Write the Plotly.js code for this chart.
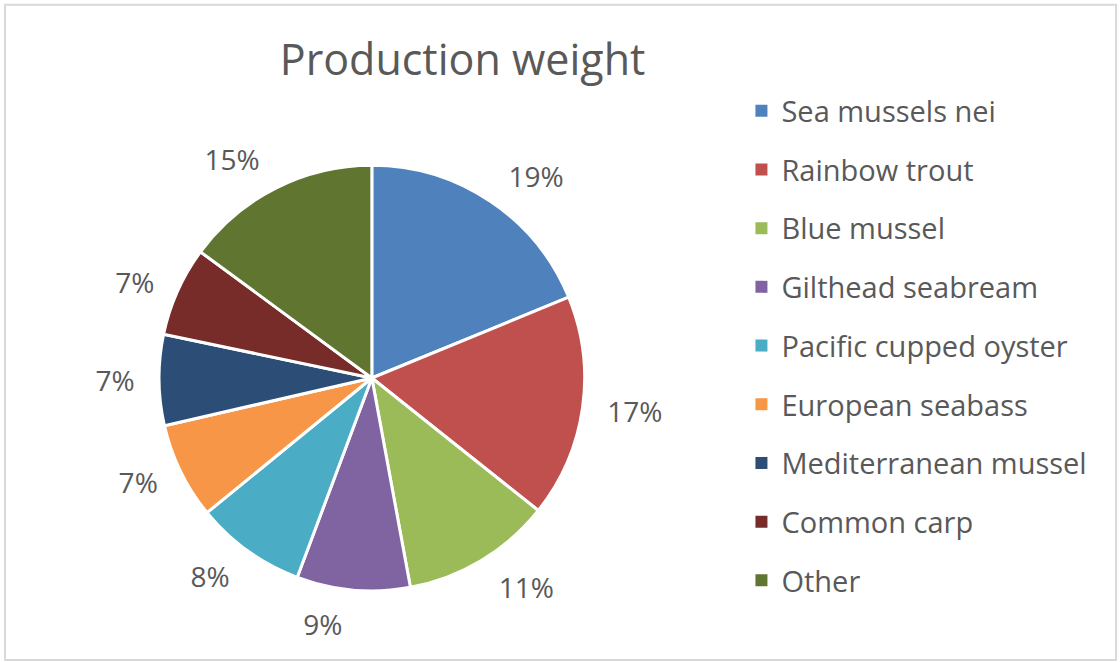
<!DOCTYPE html>
<html>
<head>
<meta charset="utf-8">
<script src="https://cdn.plot.ly/plotly-3.0.1.min.js"></script>
<style>
  html, body { margin: 0; padding: 0; background: #ffffff; }
  #chart { width: 1120px; height: 662px; }
</style>
</head>
<body>
<div id="chart"></div>
<script>
const categories = [
  "Sea mussels nei",
  "Rainbow trout",
  "Blue mussel",
  "Gilthead seabream",
  "Pacific cupped oyster",
  "European seabass",
  "Mediterranean mussel",
  "Common carp",
  "Other"
];
const shares = [18.8, 16.9, 11.4, 8.6, 8.4, 7.3, 6.9, 6.8, 14.9];
const colors = ["#4F81BD", "#C0504D", "#9BBB59", "#8064A2", "#4BACC6", "#F79646", "#2C4D75", "#772C2A", "#5F7530"];

const FONT = "Open Sans, Noto Sans, sans-serif";
const GREY = "#595959";

// visible pie (no text)
const pieTrace = {
  type: "pie",
  labels: categories,
  values: shares,
  sort: false,
  direction: "clockwise",
  rotation: 0,
  marker: { colors: colors, line: { color: "#ffffff", width: 3 } },
  textinfo: "none",
  automargin: false,
  showlegend: false,
  hoverinfo: "label+percent",
  domain: { x: [0.142, 0.522], y: [0.107, 0.751] }
};

// same data, transparent, slightly larger: carries the percentage labels
const labelTrace = {
  type: "pie",
  labels: categories,
  values: shares,
  sort: false,
  direction: "clockwise",
  rotation: 0,
  marker: { colors: categories.map(() => "rgba(0,0,0,0)"), line: { width: 0 } },
  texttemplate: "%{percent:.0%}",
  textposition: "outside",
  outsidetextfont: { family: FONT, size: 28, color: GREY },
  automargin: false,
  showlegend: false,
  hoverinfo: "skip",
  domain: { x: [0.1286, 0.5357], y: [0.0846, 0.7734] }
};

// Legend entries: one per category, spaced like the original
const legendTraces = categories.map((name, i) => ({
  type: "scatter",
  x: [null],
  y: [null],
  mode: "markers",
  name: name,
  legendgroup: "g" + i,
  marker: { symbol: "square", size: 12, color: colors[i] },
  hoverinfo: "skip",
  xaxis: "x",
  yaxis: "y"
}));

const layout = {
  width: 1120,
  height: 662,
  margin: { l: 0, r: 0, t: 0, b: 0 },
  paper_bgcolor: "#ffffff",
  plot_bgcolor: "rgba(0,0,0,0)",
  title: {
    text: "Production weight",
    font: { family: FONT, size: 43, color: GREY },
    x: 0.413, xanchor: "center",
    y: 0.91, yanchor: "middle"
  },
  xaxis: { visible: false, domain: [0.9, 0.95] },
  yaxis: { visible: false, domain: [0.9, 0.95] },
  showlegend: true,
  legend: {
    x: 0.662, xanchor: "left",
    y: 0.871, yanchor: "top",
    font: { family: FONT, size: 29, color: GREY },
    tracegroupgap: 18,
    itemwidth: 30,
    bgcolor: "rgba(0,0,0,0)"
  },
  shapes: [{
    type: "rect", xref: "paper", yref: "paper",
    x0: 0.0045, x1: 0.9965, y0: 0.003, y1: 0.993,
    line: { color: "#d9d9d9", width: 2 }
  }]
};

Plotly.newPlot("chart", [pieTrace, labelTrace].concat(legendTraces), layout, { displayModeBar: false, staticPlot: true });
</script>
</body>
</html>
